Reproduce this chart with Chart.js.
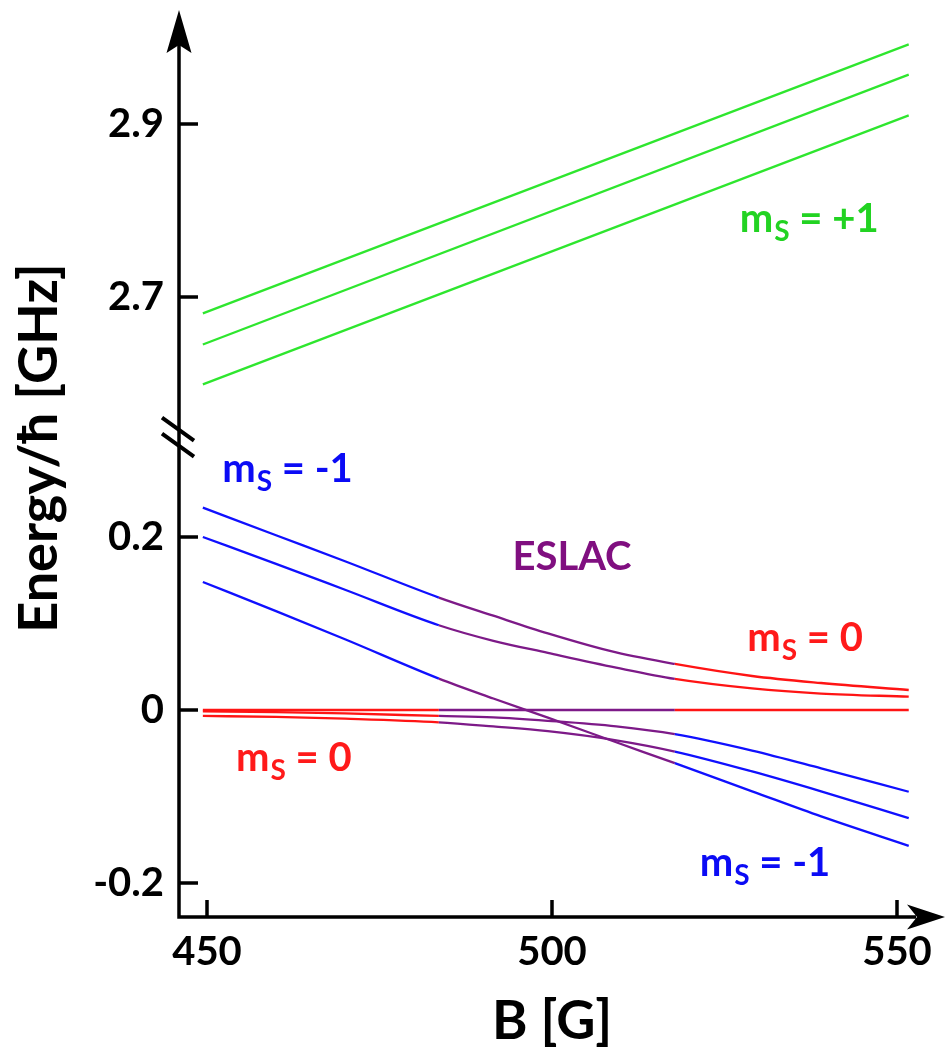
<!DOCTYPE html>
<html>
<head>
<meta charset="utf-8">
<script src="https://cdn.jsdelivr.net/npm/chart.js@4.4.1/dist/chart.umd.min.js"></script>
<style>
  html, body { margin: 0; padding: 0; background: #fff; }
  canvas { display: block; }
</style>
</head>
<body>
<canvas id="myChart" width="946" height="1051"></canvas>
<script>
// field values [G]
const fieldLow = [449.4, 460, 470, 483.6, 491.5, 499.4, 509.3, 517.8, 529, 539, 551.7];
const fieldHigh = [449.4, 551.7];

// m_s = +1 manifold [GHz]
const plusOneTop = [2.681, 2.992];
const plusOneMid = [2.645, 2.957];
const plusOneLow = [2.599, 2.910];

// levels around the anticrossing [GHz]
const upperTop = [0.234, 0.202, 0.172, 0.130, 0.109, 0.0886, 0.0665, 0.0532, 0.0393, 0.0312, 0.0231];
const upperMid = [0.200, 0.169, 0.139, 0.098, 0.080, 0.066, 0.049, 0.036, 0.025, 0.019, 0.0154];
const flatZero = [0, 0, 0, 0, 0, 0, 0, 0, 0, 0, 0];
const lowerTop = [-0.0015, -0.0025, -0.004, -0.0069, -0.0085, -0.0125, -0.019, -0.028, -0.047, -0.0675, -0.0945];
const lowerMid = [-0.0069, -0.008, -0.010, -0.0142, -0.019, -0.0245, -0.035, -0.048, -0.071, -0.094, -0.125];
const crossing = [0.148, 0.1143, 0.0818, 0.0363, 0.0133, -0.0088, -0.0373, -0.0615, -0.094, -0.123, -0.157];

// ESLAC window [G]
const eslacStart = 483.6;
const eslacEnd = 517.8;

// ticks
const xTicks = [450, 500, 550];
const yTicks = [-0.2, 0, 0.2, 2.7, 2.9];
const yTickLabels = ['-0.2', '0', '0.2', '2.7', '2.9'];

// part of the energy axis cut out by the break
const BREAK_GAP = 2.2225;
const toPlot = e => (e > 1 ? e - BREAK_GAP : e);

const GREEN = '#2ee62e', BLUE = '#1010ff', PURPLE = '#7d1a88', RED = '#ff1414';
const FONT = 'Lato, "Open Sans", sans-serif';

// state labels: anchor is left/baseline (center for 'ESLAC')
const stateLabels = [
  { txt: '+1', b: 527.2, e: 2.775, color: '#22d322' },
  { txt: '-1', b: 452.2, e: 0.2636, color: '#0b0bf5' },
  { txt: '0', b: 528.3, e: 0.0682, color: '#ff1a1a' },
  { txt: '0', b: 454.2, e: -0.0705, color: '#ff1a1a' },
  { txt: '-1', b: 521.4, e: -0.1919, color: '#0b0bf5' }
];
const eslacLabel = { txt: 'ESLAC', b: 502.9, e: 0.1618, color: '#800f80' };

function pts(xs, ys) {
  return xs.map((x, i) => ({ x: x, y: toPlot(ys[i]) }));
}

function phaseColor(before, after) {
  return ctx => {
    const x = ctx.p0.parsed.x;
    if (x < eslacStart - 1e-6) return before;
    if (x < eslacEnd - 1e-6) return PURPLE;
    return after;
  };
}

function level(xs, ys, before, after) {
  return {
    data: pts(xs, ys),
    borderColor: before,
    segment: { borderColor: phaseColor(before, after) }
  };
}

const datasets = [
  { data: pts(fieldHigh, plusOneTop), borderColor: GREEN },
  { data: pts(fieldHigh, plusOneMid), borderColor: GREEN },
  { data: pts(fieldHigh, plusOneLow), borderColor: GREEN },
  level(fieldLow, lowerMid, RED, BLUE),
  level(fieldLow, lowerTop, RED, BLUE),
  level(fieldLow, flatZero, RED, RED),
  level(fieldLow, crossing, BLUE, BLUE),
  level(fieldLow, upperMid, BLUE, RED),
  level(fieldLow, upperTop, BLUE, RED)
];

// axis arrows, inward ticks, axis break and state labels
const axisDecor = {
  id: 'axisDecor',
  afterDraw(chart) {
    const { ctx, chartArea: a, scales: { x, y } } = chart;
    const x0 = a.left, y0 = a.bottom;
    ctx.save();
    ctx.strokeStyle = '#000';
    ctx.fillStyle = '#000';
    ctx.lineCap = 'butt';

    ctx.lineWidth = 3.5;
    ctx.beginPath();
    ctx.moveTo(x0, y0 + 1.75);
    ctx.lineTo(x0, 40);
    ctx.moveTo(x0 - 1.75, y0);
    ctx.lineTo(chart.width - 30, y0);
    ctx.stroke();

    // arrow heads
    ctx.beginPath();
    ctx.moveTo(x0, 10);
    ctx.lineTo(x0 + 12.5, 53);
    ctx.lineTo(x0, 45);
    ctx.lineTo(x0 - 12.5, 53);
    ctx.closePath();
    ctx.fill();
    const tip = chart.width - 1;
    ctx.beginPath();
    ctx.moveTo(tip, y0);
    ctx.lineTo(tip - 38, y0 - 12.5);
    ctx.lineTo(tip - 28, y0);
    ctx.lineTo(tip - 38, y0 + 12.5);
    ctx.closePath();
    ctx.fill();

    // ticks pointing into the plot
    ctx.lineWidth = 3.5;
    ctx.beginPath();
    yTicks.forEach(v => {
      const py = y.getPixelForValue(toPlot(v));
      ctx.moveTo(x0, py);
      ctx.lineTo(x0 + 19, py);
    });
    xTicks.forEach(v => {
      const px = x.getPixelForValue(v);
      ctx.moveTo(px, y0);
      ctx.lineTo(px, y0 - 17);
    });
    ctx.stroke();

    // break marks on the energy axis
    const yb = y.getPixelForValue(0.315);
    ctx.lineWidth = 4;
    ctx.beginPath();
    [-8, 8].forEach(d => {
      ctx.moveTo(x0 - 17, yb + d - 12);
      ctx.lineTo(x0 + 15, yb + d + 11);
    });
    ctx.stroke();

    // axis titles
    ctx.font = 'bold 54px ' + FONT;
    ctx.textAlign = 'center';
    ctx.textBaseline = 'middle';
    ctx.save();
    ctx.translate(40, 448);
    ctx.rotate(-Math.PI / 2);
    ctx.fillText('Energy/\u0127 [GHz]', 0, 0);
    ctx.restore();
    ctx.fillText('B [G]', x.getPixelForValue(500), 1022);

    // m_S labels
    ctx.textAlign = 'left';
    ctx.textBaseline = 'alphabetic';
    stateLabels.forEach(l => {
      let px = x.getPixelForValue(l.b);
      const py = y.getPixelForValue(toPlot(l.e));
      ctx.fillStyle = l.color;
      ctx.font = 'bold 40px ' + FONT;
      ctx.fillText('m', px, py);
      px += ctx.measureText('m').width + 1;
      ctx.font = 'bold 28px ' + FONT;
      ctx.fillText('S', px, py + 9);
      px += ctx.measureText('S').width;
      ctx.font = 'bold 40px ' + FONT;
      ctx.fillText(' = ' + l.txt, px, py);
    });
    ctx.fillStyle = eslacLabel.color;
    ctx.textAlign = 'center';
    ctx.font = 'bold 40px ' + FONT;
    ctx.fillText(eslacLabel.txt, x.getPixelForValue(eslacLabel.b), y.getPixelForValue(eslacLabel.e));
    ctx.restore();
  }
};

const config = {
  type: 'line',
  data: { datasets },
  options: {
    responsive: false,
    animation: false,
    devicePixelRatio: 1,
    layout: { padding: { top: 60, right: 16, left: 0, bottom: 0 } },
    elements: {
      point: { radius: 0 },
      line: { borderWidth: 2.3, cubicInterpolationMode: 'monotone', fill: false }
    },
    datasets: { line: { clip: false } },
    plugins: { legend: { display: false }, tooltip: { enabled: false } },
    scales: {
      x: {
        type: 'linear',
        min: 445.942,
        max: 554.783,
        grid: { display: false, drawTicks: false },
        border: { display: false },
        afterFit: s => { s.height = 134; },
        afterBuildTicks: s => { s.ticks = xTicks.map(v => ({ value: v })); },
        ticks: {
          autoSkip: false,
          maxRotation: 0,
          padding: 11,
          color: '#000',
          font: { family: FONT, size: 40, weight: 'bold' },
          callback: v => String(v)
        }
      },
      y: {
        type: 'linear',
        min: -0.23931,
        max: 0.75145,
        grid: { display: false, drawTicks: false },
        border: { display: false },
        afterFit: s => { s.width = 179; },
        afterBuildTicks: s => { s.ticks = yTicks.map(v => ({ value: toPlot(v) })); },
        ticks: {
          autoSkip: false,
          padding: 15,
          color: '#000',
          font: { family: FONT, size: 40, weight: 'bold' },
          callback: (v, i) => yTickLabels[i]
        }
      }
    }
  },
  plugins: [axisDecor]
};

const myChart = new Chart(document.getElementById('myChart'), config);
</script>
</body>
</html>
